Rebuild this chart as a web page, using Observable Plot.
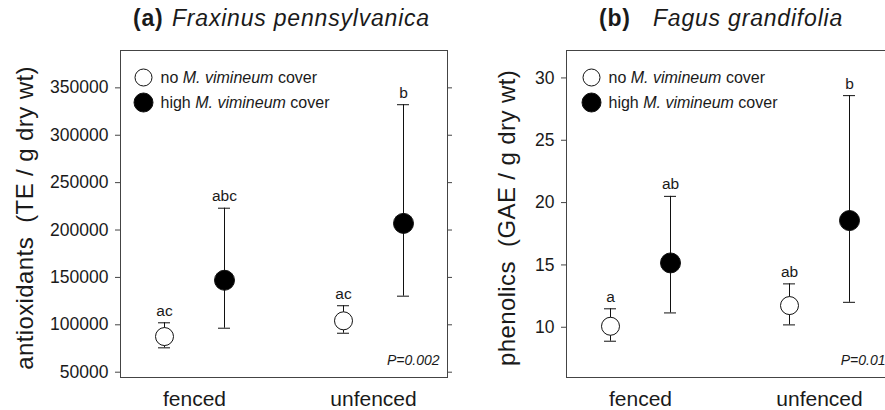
<!DOCTYPE html>
<html>
<head>
<meta charset="utf-8">
<script src="https://cdn.jsdelivr.net/npm/d3@7"></script>
<script src="https://cdn.jsdelivr.net/npm/@observablehq/plot@0.6"></script>
<style>
  html, body { margin: 0; padding: 0; background: #fff; }
  #wrap { position: relative; width: 885px; height: 410px; overflow: hidden; background: #fff;
          font-family: "Liberation Sans", Arial, Helvetica, sans-serif; color: #1a1a1a; }
  .ttl { position: absolute; top: 7px; font-size: 23px; line-height: 23px; letter-spacing: 0.8px; white-space: nowrap; }
  .ttl b { font-weight: bold; }
  .ttl i { font-style: italic; }
  .panel { position: absolute; top: 40px; width: 460px; height: 370px; }
  .panel svg { background: transparent !important; overflow: visible; max-width: none !important; }
</style>
</head>
<body>
<div id="wrap">
  <div class="ttl" style="left:133px"><b>(a)</b></div>
  <div class="ttl" style="left:172px"><i>Fraxinus pennsylvanica</i></div>
  <div class="ttl" style="left:599px"><b>(b)</b></div>
  <div class="ttl" style="left:653px"><i>Fagus grandifolia</i></div>
  <div class="panel" id="pa" style="left:0px"></div>
  <div class="panel" id="pb" style="left:450px"></div>
</div>
<script>
// ---------- data ----------
const sites = ["fenced", "unfenced"];
const legendLabels = ["no M. vimineum cover", "high M. vimineum cover"];

// (a) antioxidants (TE / g dry wt)
const antiNoMean  = [87600, 104200];
const antiNoLo    = [75700, 91100];
const antiNoHi    = [102100, 120100];
const antiNoLet   = ["ac", "ac"];
const antiHiMean  = [147000, 207000];
const antiHiLo    = [96400, 130200];
const antiHiHi    = [223000, 332200];
const antiHiLet   = ["abc", "b"];
const antiTicks   = [50000, 100000, 150000, 200000, 250000, 300000, 350000];
const antiTitle   = "antioxidants\u00a0 (TE / g dry wt)";
const antiP       = "P=0.002";

// (b) phenolics (GAE / g dry wt)
const phenNoMean  = [10.08, 11.74];
const phenNoLo    = [8.88, 10.19];
const phenNoHi    = [11.48, 13.48];
const phenNoLet   = ["a", "ab"];
const phenHiMean  = [15.16, 18.56];
const phenHiLo    = [11.15, 12.0];
const phenHiHi    = [20.5, 28.58];
const phenHiLet   = ["ab", "b"];
const phenTicks   = [10, 15, 20, 25, 30];
const phenTitle   = "phenolics\u00a0 (GAE / g dry wt)";
const phenP       = "P=0.01";

// ---------- helpers ----------
function rows(mean, lo, hi, let_) {
  return sites.map((s, i) => ({site: s, mean: mean[i], lo: lo[i], hi: hi[i], letter: let_[i]}));
}
const FONT = "Liberation Sans, Arial, Helvetica, sans-serif";
const INK = "#1a1a1a";

function panel(cfg) {
  const no = rows(cfg.noMean, cfg.noLo, cfg.noHi, cfg.noLet);
  const hi = rows(cfg.hiMean, cfg.hiLo, cfg.hiHi, cfg.hiLet);
  const OFF = 30;
  const series = [
    {data: no, dx: -OFF, fill: "white", r: 9},
    {data: hi, dx: OFF, fill: "black", r: 10}
  ];
  const marks = [
    Plot.frame({stroke: "#444", strokeWidth: 1}),
    Plot.axisY({ticks: cfg.ticks, tickSize: 5, tickPadding: 7, fontSize: 17.5, label: null, stroke: "#444", fill: INK,
                tickFormat: d => String(d)}),
    Plot.axisY({anchor: "right", ticks: cfg.ticks, tickSize: 4, tickFormat: () => "", label: null, stroke: "#444"}),
    Plot.axisX({tickSize: 0, tickPadding: 14, fontSize: 21, label: null, fill: INK}),
    Plot.text([cfg.title], {frameAnchor: "left", text: d => d, rotate: -90, dx: cfg.titleDx, dy: 4,
                            textAnchor: "middle", lineAnchor: "middle", fontSize: 24, fill: INK})
  ];
  for (const s of series) {
    marks.push(
      Plot.ruleX(s.data, {x: "site", y1: "lo", y2: "hi", dx: s.dx, stroke: "#111", strokeWidth: 1}),
      Plot.ruleY(s.data, {x1: "site", x2: "site", y: "hi", dx: s.dx, insetLeft: -6, insetRight: -6, stroke: "#111", strokeWidth: 1}),
      Plot.ruleY(s.data, {x1: "site", x2: "site", y: "lo", dx: s.dx, insetLeft: -6, insetRight: -6, stroke: "#111", strokeWidth: 1}),
      Plot.dot(s.data, {x: "site", y: "mean", dx: s.dx, r: s.r, fill: s.fill, stroke: "#111", strokeWidth: 1}),
      Plot.text(s.data, {x: "site", y: "hi", text: "letter", dx: s.dx, dy: -7, lineAnchor: "bottom", fontSize: 15.5, fill: INK})
    );
  }
  // legend
  legendLabels.forEach((lab, i) => {
    const dy = 27 + i * 25;
    marks.push(
      Plot.dot([lab], {frameAnchor: "top-left", dx: cfg.legDx, dy, r: i === 0 ? 8.5 : 9.5,
                       fill: i === 0 ? "white" : "black", stroke: "#111", strokeWidth: 1}),
      Plot.text([lab], {frameAnchor: "top-left", text: d => d, dx: cfg.legDx + 17, dy, textAnchor: "start",
                        lineAnchor: "middle", fontSize: 16, fill: INK})
    );
  });
  // P value
  marks.push(Plot.text([cfg.p], {frameAnchor: "bottom-right", text: d => d, dx: -8, dy: -13, textAnchor: "end",
                                  lineAnchor: "bottom", fontSize: 14, fontStyle: "italic", fill: INK}));

  const svg = Plot.plot({
    width: cfg.width, height: 370,
    marginTop: 10, marginBottom: 33, marginLeft: cfg.marginLeft, marginRight: cfg.marginRight,
    style: {fontFamily: FONT, background: "transparent", color: INK, overflow: "visible"},
    x: {type: "point", domain: sites, padding: 0.413, label: null},
    y: {domain: cfg.domain, label: null},
    marks
  });
  // mixed italic legend text + letter spacing of title
  d3.select(svg).selectAll("text").each(function () {
    const t = this.textContent;
    if (t === cfg.title) d3.select(this).style("letter-spacing", "0.4px");
    if (t.includes("M. vimineum")) {
      const parts = t.split("M. vimineum");
      const sel = d3.select(this);
      sel.text(null);
      sel.append("tspan").text(parts[0]);
      sel.append("tspan").attr("font-style", "italic").text("M. vimineum");
      sel.append("tspan").text(parts[1]);
      sel.attr("xml:space", "preserve").style("white-space", "pre");
    }
  });
  return svg;
}

document.getElementById("pa").append(panel({
  noMean: antiNoMean, noLo: antiNoLo, noHi: antiNoHi, noLet: antiNoLet,
  hiMean: antiHiMean, hiLo: antiHiLo, hiHi: antiHiHi, hiLet: antiHiLet,
  ticks: antiTicks, title: antiTitle, p: antiP, domain: [44400, 389400],
  width: 455, marginLeft: 120, marginRight: 8, titleDx: -95, legDx: 23
}));
document.getElementById("pb").append(panel({
  noMean: phenNoMean, noLo: phenNoLo, noHi: phenNoHi, noLet: phenNoLet,
  hiMean: phenHiMean, hiLo: phenHiLo, hiHi: phenHiHi, hiLet: phenHiLet,
  ticks: phenTicks, title: phenTitle, p: phenP, domain: [5.97, 32.2],
  width: 451, marginLeft: 116, marginRight: 8, titleDx: -59, legDx: 25
}));
</script>
</body>
</html>
